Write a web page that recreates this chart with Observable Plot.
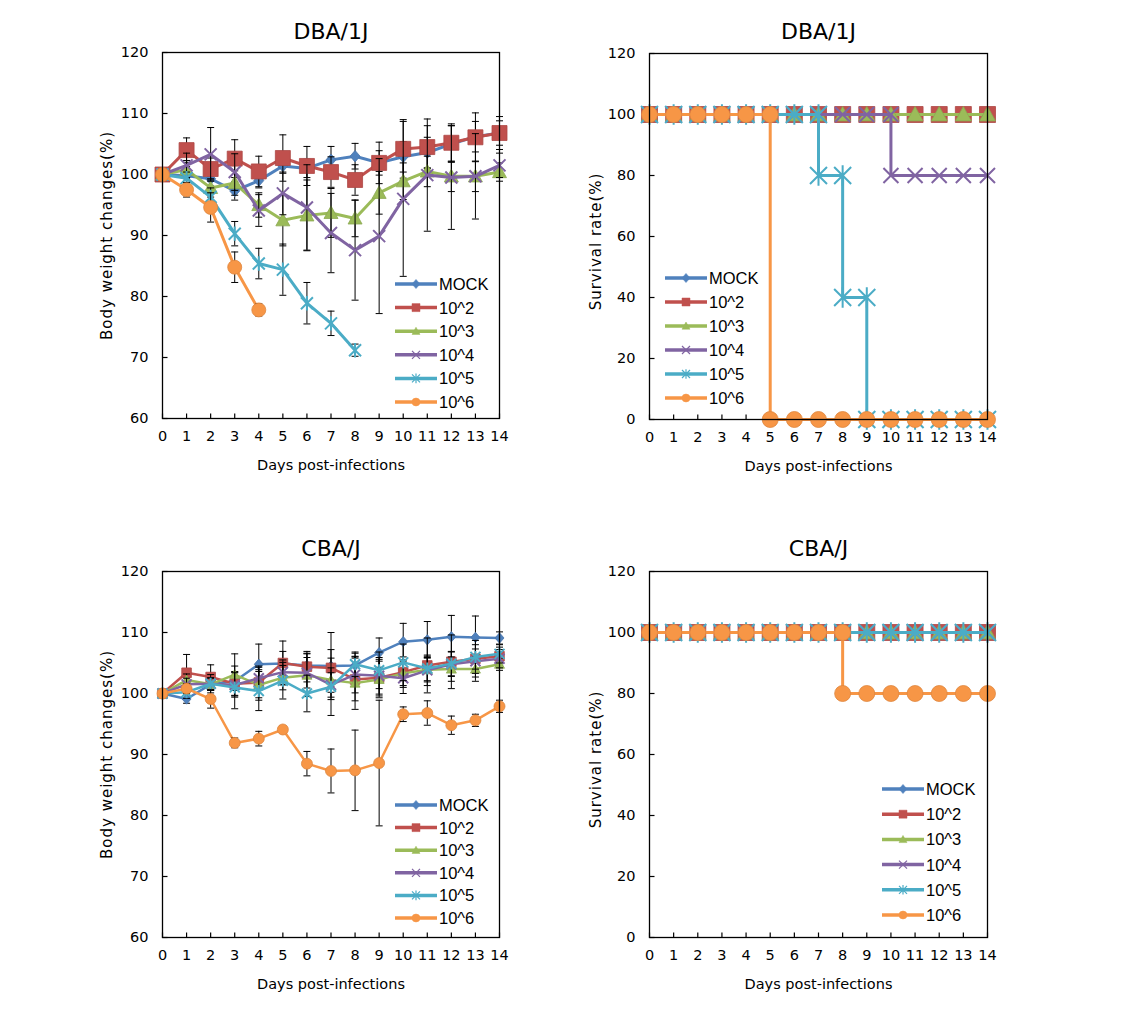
<!DOCTYPE html>
<html><head><meta charset="utf-8">
<script src="https://cdn.jsdelivr.net/npm/d3@7"></script>
<script src="https://cdn.jsdelivr.net/npm/@observablehq/plot@0.6"></script>
<style>
body{margin:0;background:#fff;}
#root{position:relative;width:1140px;height:1023px;overflow:hidden;background:#fff;}
#root > svg{position:absolute;}
</style>
</head><body><div id="root"></div>
<script>
// ---------- data ----------
const days = [0,1,2,3,4,5,6,7,8,9,10,11,12,13,14];
const seriesNames = ["MOCK","10^2","10^3","10^4","10^5","10^6"];
const seriesColors = ["#4F81BD","#C0504D","#9BBB59","#8064A2","#4BACC6","#F79646"];

// DBA/1J body weight (%)
const dbaMock = [100,99.8,99.3,97.3,99,101.4,101,102.4,103,101.9,102.9,103.6,105,106.2,106.8];
const dba1e2  = [100,104,100.9,102.6,100.5,102.7,101.4,100.4,99.1,101.9,104.2,104.5,105.2,106.1,106.8];
const dba1e3  = [100,100.8,97.8,98.6,95,92.5,93.3,93.7,92.8,97,98.9,100.5,99.7,99.7,100.4];
const dba1e4  = [100,101.5,103.3,100.4,94.1,96.9,94.6,90.4,87.6,89.9,96,99.9,99.5,99.7,101.5];
const dba1e5  = [100,99.4,96.3,90.3,85.4,84.4,78.9,75.6,71.2];
const dba1e6  = [100,97.5,94.6,84.8,77.8];
// DBA/1J error bars (SD)
const dbaMockErr = [0,1.5,1.2,1.5,1.2,1.2,1.5,2.2,2.1,2,2.5,2.5,3,2.5,2];
const dba1e2Err  = [0,2,1.8,3.1,2.5,3.8,3.2,2.5,2.5,3.4,4.8,3.5,3.1,4,2.7];
const dba1e3Err  = [0,1.5,1.5,2,2,4.2,5.8,4,3,3.5,3,2.5,2.5,2.5,1.5];
const dba1e4Err  = [0,2,4.4,3,2.6,3.5,7,6.5,8.2,12.7,12.7,9.2,8.5,7,2];
const dba1e5Err  = [0,1,1.5,2,2.5,4.2,3.4,2,1];
const dba1e6Err  = [0,1.2,2.4,2.5,1];

// CBA/J body weight (%)
const cbaMock = [100,99.1,101.5,102,104.8,104.9,104.6,104.5,104.6,106.7,108.5,108.8,109.3,109.2,109.1];
const cba1e2  = [100,103.4,102.7,101.6,101.8,105,104.4,104.2,102.3,102.6,103.5,104.6,105.2,105.7,106.1];
const cba1e3  = [100,102.2,101.5,103.1,101.4,102.6,103,102.2,101.7,102.3,103.3,103.9,104,104,104.8];
const cba1e4  = [100,101.5,101.6,101.4,102.5,103.5,103.4,101.4,103.1,102.9,102.5,103.8,104.8,105.3,105.7];
const cba1e5  = [100,100.2,101.6,101,100.4,102.1,100,101.1,104.8,103.8,105.1,104.1,104.9,106,106.5];
const cba1e6  = [100,100.8,99.1,91.9,92.6,94.1,88.5,87.3,87.4,88.6,96.6,96.8,94.8,95.6,97.9];
// CBA/J error bars (SD)
const cbaMockErr = [0,0.7,1,1.5,3.3,2,2,5.5,2,2.4,3,3,3.5,3.5,1];
const cba1e2Err  = [0,3,2,2,2.5,3.6,2.5,3,3.5,3,2.5,4.5,4.4,3,1.5];
const cba1e3Err  = [0,1,1,3.4,2.5,2,3.5,2,4.3,3,2,2,2,2,1];
const cba1e4Err  = [0,1,1,2,2,2,2.5,2,3,3,2.5,2.5,2,2,1.5];
const cba1e5Err  = [0,1,1.5,3.5,3.2,3,3,4.7,2,3,3,2,2,2,1.5];
const cba1e6Err  = [0,0.8,1.5,0.8,1.2,0.6,2,3.6,6.6,10.3,1.2,2,1.5,1,1];

// Survival (%) as step points (day, value)
const survAllDays = [0,1,2,3,4,5,6,7,8,9,10,11,12,13,14];
const survAll100  = [100,100,100,100,100,100,100,100,100,100,100,100,100,100,100];
const dbaSurv4Days = [0,1,2,3,4,5,6,7,8,9,10,10,11,12,13,14];
const dbaSurv4Vals = [100,100,100,100,100,100,100,100,100,100,100,80,80,80,80,80];
const dbaSurv5Days = [0,1,2,3,4,5,6,7,7,8,8,9,9,10,11,12,13,14];
const dbaSurv5Vals = [100,100,100,100,100,100,100,100,80,80,40,40,0,0,0,0,0,0];
const dbaSurv6Days = [0,1,2,3,4,5,5,6,7,8,9,10,11,12,13,14];
const dbaSurv6Vals = [100,100,100,100,100,100,0,0,0,0,0,0,0,0,0,0];
const cbaSurv6Days = [0,1,2,3,4,5,6,7,8,8,9,10,11,12,13,14];
const cbaSurv6Vals = [100,100,100,100,100,100,100,100,100,80,80,80,80,80,80,80];

const weightTicks = [60,70,80,90,100,110,120];
const survTicks = [0,20,40,60,80,100,120];

// ---------- symbols ----------
const rad = s => Math.sqrt(s / Math.PI);
const symDiamond = {draw(c,s){const r=rad(s);c.moveTo(0,-r*1.15);c.lineTo(r,0);c.lineTo(0,r*1.15);c.lineTo(-r,0);c.closePath();}};
const symSquare = {draw(c,s){const r=rad(s);c.moveTo(-r,-r);c.lineTo(r,-r);c.lineTo(r,r);c.lineTo(-r,r);c.closePath();}};
const symTriangle = {draw(c,s){const r=rad(s);c.moveTo(0,-r);c.lineTo(r,r*0.8);c.lineTo(-r,r*0.8);c.closePath();}};
const symTimes = {draw(c,s){const r=rad(s);c.moveTo(-r,-r);c.lineTo(r,r);c.moveTo(-r,r);c.lineTo(r,-r);}};
const symStar = {draw(c,s){const r=rad(s);c.moveTo(-r,-r);c.lineTo(r,r);c.moveTo(-r,r);c.lineTo(r,-r);c.moveTo(0,-r*1.2);c.lineTo(0,r*1.2);}};
const symCircle = {draw(c,s){const r=rad(s);c.moveTo(r,0);c.arc(0,0,r,0,2*Math.PI);}};
const symVTick = {draw(c){c.moveTo(0,0);c.lineTo(0,-5);}};
const symHTick = {draw(c){c.moveTo(0,0);c.lineTo(5,0);}};
const symCap = {draw(c){c.moveTo(-3.5,0);c.lineTo(3.5,0);}};
const seriesSymbols = [symDiamond,symSquare,symTriangle,symTimes,symStar,symCircle];
const filled = [true,true,true,false,false,true];

const FONT = "'DejaVu Sans', Verdana, sans-serif";
const LFONT = "'Liberation Sans', Arial, Helvetica, sans-serif";

function rows(dayArr, valArr, errArr) {
  return valArr.map((v,i) => ({day: dayArr[i], v, e: errArr ? errArr[i] : 0}));
}

function panel(o) {
  const marks = [
    Plot.axisX({ticks: days, tickSize: 0, tickPadding: 12, fontSize: 14.5, label: null, tickFormat: d => String(d)}),
    Plot.axisY({ticks: o.yTicks, tickSize: 0, tickPadding: 14, fontSize: 14.5, label: null}),
    Plot.dot(days, {x: d => d, frameAnchor: "bottom", symbol: symVTick, stroke: "#000", fill: "none", strokeWidth: 1.2}),
    Plot.dot(o.yTicks, {y: d => d, frameAnchor: "left", symbol: symHTick, stroke: "#000", fill: "none", strokeWidth: 1.2}),
  ];
  o.series.forEach((data, k) => {
    const col = seriesColors[k];
    marks.push(Plot.line(data, {x: "day", y: "v", stroke: col, strokeWidth: o.lineW, curve: "linear"}));
    if (o.errors) {
      const ed = data.filter(d => d.e > 0);
      marks.push(Plot.ruleX(ed, {x: "day", y1: d => d.v - d.e, y2: d => d.v + d.e, stroke: "#000", strokeWidth: 1}));
      marks.push(Plot.dot(ed, {x: "day", y: d => d.v + d.e, symbol: symCap, stroke: "#000", fill: "none", strokeWidth: 1}));
      marks.push(Plot.dot(ed, {x: "day", y: d => d.v - d.e, symbol: symCap, stroke: "#000", fill: "none", strokeWidth: 1}));
    }
    const r = o.r[k];
    if (filled[k]) {
      marks.push(Plot.dot(data, {x: "day", y: "v", symbol: seriesSymbols[k], r, fill: col, stroke: d3.color(col).darker(0.3).formatHex(), strokeWidth: 0.8}));
    } else {
      marks.push(Plot.dot(data, {x: "day", y: "v", symbol: seriesSymbols[k], r, fill: "none", stroke: col, strokeWidth: 2}));
    }
  });
  marks.push(Plot.frame({stroke: "#000", strokeWidth: 1.3}));
  marks.push(Plot.text([o.title], {frameAnchor: "top", dy: o.titleDy, fontSize: 22, lineAnchor: "middle", fill: "#000"}));
  marks.push(Plot.text(["Days post-infections"], {frameAnchor: "bottom", dy: 47, fontSize: 14.5, lineAnchor: "middle", fill: "#000"}));
  marks.push(Plot.text([o.yLabel], {frameAnchor: "left", dx: o.yLabelDx, dy: o.yLabelDy, rotate: -90, fontSize: 15, textAnchor: "middle", lineAnchor: "middle", fill: "#000", className: "ylab"}));

  const svg = Plot.plot({
    width: 570, height: 510,
    marginLeft: o.mL, marginRight: 570 - o.mL - o.fw, marginTop: o.mT, marginBottom: 510 - o.mT - o.fh,
    x: {domain: [0,14]},
    y: {domain: o.yDomain},
    style: {fontFamily: FONT, color: "#000", background: "transparent", overflow: "visible"},
    marks
  });
  d3.select(svg).selectAll(".ylab text").attr("letter-spacing", o.yLabelSpacing);
  svg.style.left = o.left + "px";
  svg.style.top = o.top + "px";
  return svg;
}

const root = document.getElementById("root");

const dbaWeight = [
  rows(days, dbaMock, dbaMockErr), rows(days, dba1e2, dba1e2Err), rows(days, dba1e3, dba1e3Err),
  rows(days, dba1e4, dba1e4Err), rows(days, dba1e5, dba1e5Err), rows(days, dba1e6, dba1e6Err)
];
const cbaWeight = [
  rows(days, cbaMock, cbaMockErr), rows(days, cba1e2, cba1e2Err), rows(days, cba1e3, cba1e3Err),
  rows(days, cba1e4, cba1e4Err), rows(days, cba1e5, cba1e5Err), rows(days, cba1e6, cba1e6Err)
];
const dbaSurv = [
  rows(survAllDays, survAll100), rows(survAllDays, survAll100), rows(survAllDays, survAll100),
  rows(dbaSurv4Days, dbaSurv4Vals), rows(dbaSurv5Days, dbaSurv5Vals), rows(dbaSurv6Days, dbaSurv6Vals)
];
const cbaSurv = [
  rows(survAllDays, survAll100), rows(survAllDays, survAll100), rows(survAllDays, survAll100),
  rows(survAllDays, survAll100), rows(survAllDays, survAll100), rows(cbaSurv6Days, cbaSurv6Vals)
];

root.appendChild(panel({left: 0, top: 0, mL: 162, mT: 52, fw: 337, fh: 366, series: dbaWeight, errors: true,
  yDomain: [60,120], yTicks: weightTicks, title: "DBA/1J", titleDy: -21, yLabel: "Body weight changes(%)", yLabelDx: -55, yLabelDy: 0, yLabelSpacing: 1.0,
  lineW: 3, r: [5,7.5,7,6,6,7]}));
root.appendChild(panel({left: 570, top: 0, mL: 79, mT: 53, fw: 338, fh: 366, series: dbaSurv, errors: false,
  yDomain: [0,120], yTicks: survTicks, title: "DBA/1J", titleDy: -22, yLabel: "Survival rate(%)", yLabelDx: -53, yLabelDy: 5, yLabelSpacing: 1.0,
  lineW: 3, r: [6,8,8,7.5,8.5,8]}));
root.appendChild(panel({left: 0, top: 515, mL: 162, mT: 56, fw: 337, fh: 366, series: cbaWeight, errors: true,
  yDomain: [60,120], yTicks: weightTicks, title: "CBA/J", titleDy: -23, yLabel: "Body weight changes(%)", yLabelDx: -55, yLabelDy: 0, yLabelSpacing: 1.0,
  lineW: 2.5, r: [4.5,4.8,5,5,5,5.5]}));
root.appendChild(panel({left: 570, top: 515, mL: 79, mT: 56, fw: 338, fh: 366, series: cbaSurv, errors: false,
  yDomain: [0,120], yTicks: survTicks, title: "CBA/J", titleDy: -23, yLabel: "Survival rate(%)", yLabelDx: -53, yLabelDy: 5, yLabelSpacing: 1.0,
  lineW: 3, r: [6,8,8,7.5,8.5,8]}));

// ---------- legends (overlay) ----------
const ov = d3.select(root).append("svg").attr("width", 1140).attr("height", 1023)
  .style("left", "0px").style("top", "0px").style("pointer-events", "none");
function legend(x0, y0, step) {
  seriesNames.forEach((name, k) => {
    const y = y0 + k * step, col = seriesColors[k];
    const g = ov.append("g");
    g.append("line").attr("x1", x0).attr("x2", x0 + 42).attr("y1", y).attr("y2", y)
      .attr("stroke", col).attr("stroke-width", 3.5);
    const p = d3.symbol(seriesSymbols[k], Math.PI * 16)();
    g.append("path").attr("d", p).attr("transform", `translate(${x0 + 21},${y})`)
      .attr("fill", filled[k] ? col : "none").attr("stroke", col).attr("stroke-width", filled[k] ? 0.5 : 1.2);
    g.append("text").attr("x", x0 + 44).attr("y", y).attr("dy", "0.36em")
      .attr("font-family", LFONT).attr("font-size", 16.5).attr("fill", "#000").text(name);
  });
}
legend(395, 284, 23.6);
legend(665, 278, 24);
legend(395, 805, 22.6);
legend(882, 789, 25.2);
</script></body></html>
